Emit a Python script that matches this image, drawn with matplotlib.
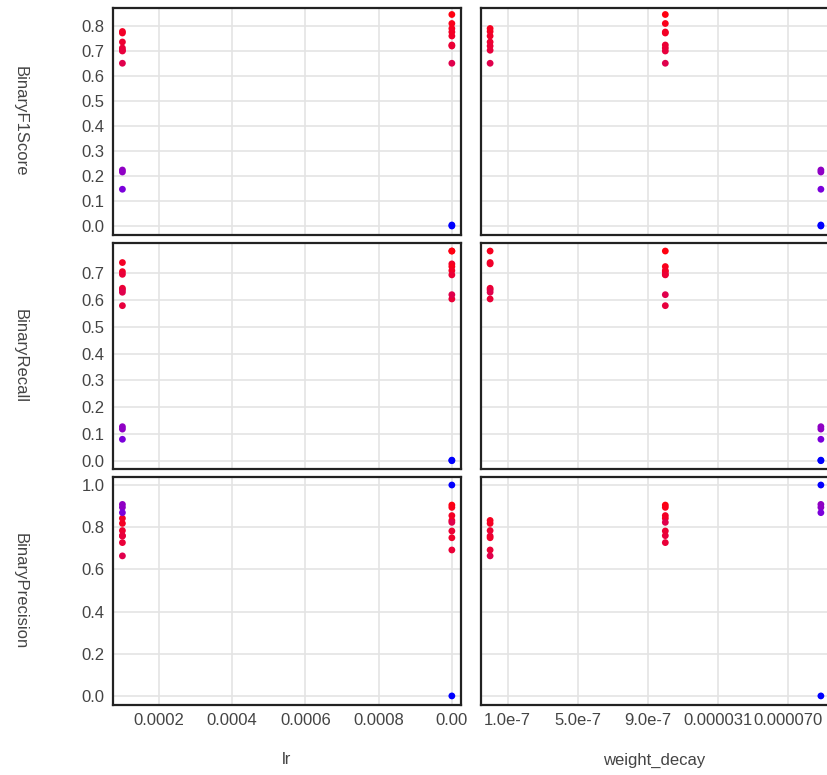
import numpy as np
import matplotlib
matplotlib.use("Agg")
import matplotlib.pyplot as plt
from matplotlib.colors import LinearSegmentedColormap

plt.rcParams['font.family'] = ['Liberation Sans', 'DejaVu Sans']

# one entry per run
lr = [1e-4, 1e-4, 1e-4, 1e-4, 1e-4, 1e-4, 1e-4,
      1e-3, 1e-3, 1e-3, 1e-3, 1e-3, 1e-3, 1e-3, 1e-3,
      1e-4, 1e-4, 1e-4,
      1e-3, 1e-3]
weight_decay = [0, 0, 0, 0, 1e-6, 1e-6, 1e-6,
                0, 0, 0, 1e-6, 1e-6, 1e-6, 1e-6, 1e-6,
                1e-4, 1e-4, 1e-4,
                1e-4, 1e-4]
f1 = [0.778, 0.736, 0.703, 0.651, 0.772, 0.712, 0.700,
      0.790, 0.760, 0.720, 0.846, 0.810, 0.776, 0.724, 0.651,
      0.224, 0.216, 0.147,
      0.004, 0.0]
recall = [0.740, 0.644, 0.638, 0.629, 0.706, 0.696, 0.579,
          0.783, 0.735, 0.604, 0.783, 0.725, 0.710, 0.694, 0.620,
          0.127, 0.118, 0.080,
          0.002, 0.0]
precision = [0.818, 0.784, 0.758, 0.664, 0.842, 0.727, 0.760,
             0.832, 0.750, 0.692, 0.905, 0.894, 0.855, 0.782, 0.823,
             0.908, 0.894, 0.869,
             1.0, 0.0]

metrics = ['BinaryF1Score', 'BinaryRecall', 'BinaryPrecision']
metric_vals = [f1, recall, precision]
params = ['lr', 'weight_decay']
param_vals = [lr, weight_decay]

lr_ticks = [2e-4, 4e-4, 6e-4, 8e-4, 1e-3]
lr_ticklabels = ['0.0002', '0.0004', '0.0006', '0.0008', '0.00']
wd_ticks = [1e-7, 5e-7, 9e-7, 3.1e-5, 7e-5]
wd_ticklabels = ['1.0e-7', '5.0e-7', '9.0e-7', '0.000031', '0.000070']

# weight_decay axis is piecewise linear in the original
wd_v = [-1e-6, 0, 1e-7, 9e-7, 1e-6, 3.1e-5, 7e-5, 1e-4, 2e-4]
wd_p = [-2.75, -0.25, 0, 2, 2.25, 3, 4, 4.47, 6]
wd_fwd = lambda x: np.interp(x, wd_v, wd_p)
wd_inv = lambda x: np.interp(x, wd_p, wd_v)

cmap = LinearSegmentedColormap.from_list(
    'run', [(0, '#0000ff'), (0.17, '#7a00dc'), (0.26, '#9000c4'),
            (0.77, '#e0004c'), (1, '#ff0010')])

ylims = [(-0.036, 0.872), (-0.031, 0.813), (-0.043, 1.038)]
yticks = [np.arange(0, 0.81, 0.1), np.arange(0, 0.71, 0.1), np.arange(0, 1.01, 0.2)]

W, H = 827, 775
fig = plt.figure(figsize=(W / 100, H / 100), dpi=100)
cols = [(113, 461), (481, 830)]
rows = [(8, 235), (243, 469), (477, 705)]
txt = '#444444'

for i, (y0, y1) in enumerate(rows):
    for j, (x0, x1) in enumerate(cols):
        ax = fig.add_axes([x0 / W, 1 - y1 / H, (x1 - x0) / W, (y1 - y0) / H])
        if j == 1:
            ax.set_xscale('function', functions=(wd_fwd, wd_inv))
        ax.scatter(param_vals[j], metric_vals[i], c=f1, cmap=cmap, vmin=0, vmax=max(f1),
                   s=24, linewidths=0, zorder=3)
        ax.set_ylim(*ylims[i])
        ax.set_yticks(yticks[i])
        if j == 0:
            ax.set_xlim(7.43e-5, 1.025e-3)
            ax.set_xticks(lr_ticks)
            ax.set_xticklabels(lr_ticklabels)
            ax.set_yticklabels(['%.1f' % v for v in yticks[i]])
        else:
            ax.set_xlim(wd_inv(-0.38), wd_inv(4.6))
            ax.set_xticks(wd_ticks)
            ax.set_xticklabels(wd_ticklabels)
            ax.set_yticklabels([])
        if i < 2:
            ax.set_xticklabels([])
        ax.xaxis.set_minor_locator(matplotlib.ticker.NullLocator())
        ax.grid(True, color='#e4e4e4', lw=1.2)
        ax.set_axisbelow(True)
        ax.tick_params(length=0, labelsize=12, labelcolor=txt, pad=6)
        for sp in ax.spines.values():
            sp.set_color('#222222')
            sp.set_linewidth(1.6)

    fig.text(20 / W, 1 - (y0 + y1) / 2 / H, metrics[i], rotation=-90,
             ha='center', va='center', fontsize=12, color=txt)

for j, (x0, x1) in enumerate(cols):
    cx = (x0 + min(x1, 828)) / 2
    fig.text(cx / W, 1 - 760 / H, params[j], ha='center', va='center',
             fontsize=12, color=txt)

fig.savefig('out.png', dpi=100)
